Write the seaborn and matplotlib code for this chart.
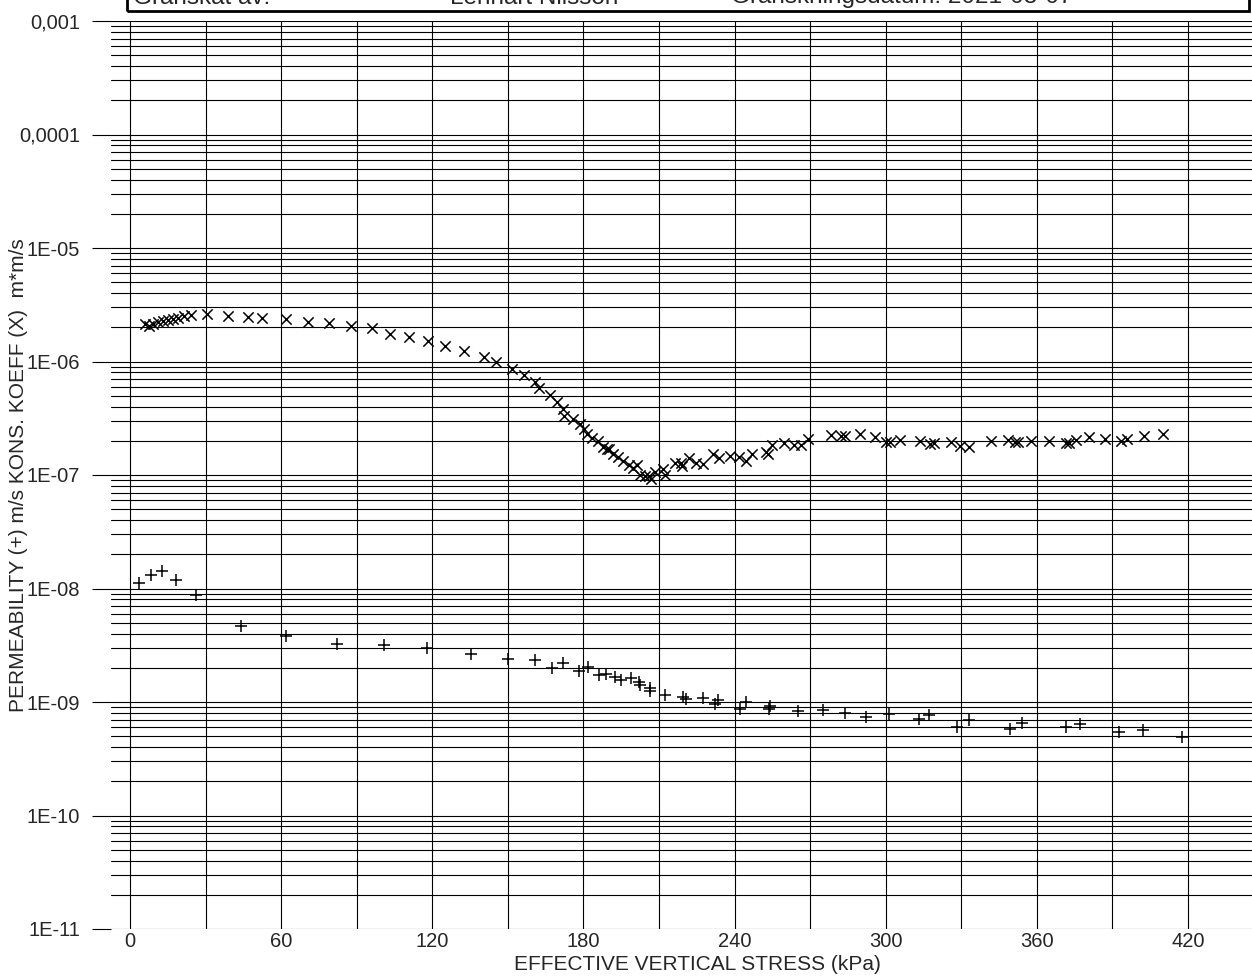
import numpy as np
import matplotlib
matplotlib.use('Agg')
import matplotlib.pyplot as plt
from matplotlib.ticker import LogLocator, MultipleLocator, FuncFormatter, NullFormatter
from matplotlib.patches import Rectangle
import seaborn as sns

# konsolideringskoefficient (x-markers)
stress_koeff = [6.0, 7.7, 9.3, 11.2, 13.2, 15.2, 17.2, 19.2, 21.4, 24.1, 30.7, 38.9, 46.8, 52.6,
                61.8, 70.8, 79.0, 87.6, 95.9, 103.4, 110.8, 118.4, 125.0, 132.5, 140.5, 145.1,
                151.7, 156.3, 160.7, 162.4, 166.9, 169.6, 171.9, 172.2, 175.7, 178.6, 180.2,
                181.5, 183.6, 185.8, 187.8, 189.2, 190.2, 191.8, 193.8, 195.8, 198.1, 199.7,
                201.3, 202.4, 204.4, 206.1, 207.0, 208.3, 211.6, 212.3, 216.3, 218.9, 219.3,
                221.9, 224.6, 227.3, 231.5, 233.9, 238.1, 241.8, 244.4, 247.1, 252.5, 253.4,
                254.8, 259.7, 263.6, 266.4, 269.2, 278.2, 282.1, 283.8, 289.8, 295.6, 300.2,
                301.6, 305.8, 313.5, 317.7, 319.1, 326.1, 329.6, 333.1, 341.9, 348.4, 351.2,
                352.6, 357.5, 364.8, 371.5, 372.9, 375.4, 380.9, 387.1, 393.5, 395.6, 402.5,
                409.9]
koeff = [2.15e-6, 2.04e-6, 2.13e-6, 2.23e-6, 2.28e-6, 2.32e-6, 2.37e-6, 2.40e-6, 2.51e-6, 2.58e-6,
         2.61e-6, 2.52e-6, 2.48e-6, 2.43e-6, 2.36e-6, 2.22e-6, 2.20e-6, 2.04e-6, 1.96e-6, 1.74e-6,
         1.63e-6, 1.51e-6, 1.37e-6, 1.24e-6, 1.10e-6, 9.95e-7, 8.65e-7, 7.6e-7, 6.64e-7, 5.8e-7,
         5.04e-7, 4.42e-7, 3.79e-7, 3.31e-7, 3.10e-7, 2.80e-7, 2.53e-7, 2.29e-7, 2.13e-7, 2.0e-7,
         1.78e-7, 1.68e-7, 1.68e-7, 1.54e-7, 1.44e-7, 1.33e-7, 1.22e-7, 1.16e-7, 1.22e-7, 1.01e-7,
         9.8e-8, 9.8e-8, 9.2e-8, 1.07e-7, 1.12e-7, 1.01e-7, 1.27e-7, 1.28e-7, 1.20e-7, 1.42e-7,
         1.28e-7, 1.26e-7, 1.52e-7, 1.41e-7, 1.48e-7, 1.43e-7, 1.33e-7, 1.52e-7, 1.59e-7, 1.54e-7,
         1.84e-7, 1.93e-7, 1.84e-7, 1.84e-7, 2.07e-7, 2.24e-7, 2.19e-7, 2.22e-7, 2.32e-7, 2.16e-7,
         1.97e-7, 1.97e-7, 2.04e-7, 2.01e-7, 1.88e-7, 1.90e-7, 1.94e-7, 1.80e-7, 1.77e-7, 2.0e-7,
         2.04e-7, 1.97e-7, 1.97e-7, 2.0e-7, 2.01e-7, 1.93e-7, 1.93e-7, 2.04e-7, 2.15e-7, 2.09e-7,
         2.01e-7, 2.09e-7, 2.22e-7, 2.31e-7]

# permeabilitet (+-markers)
stress_perm = [3.7, 8.2, 12.7, 18.3, 26.2, 44.0, 61.8, 82.0, 100.9, 118.1, 135.2, 150.1, 160.8,
               167.6, 171.9, 178.3, 181.9, 186.2, 188.9, 192.5, 194.8, 198.7, 201.9, 202.4, 206.6,
               206.3, 212.3, 219.6, 220.6, 227.3, 232.1, 233.5, 242.1, 244.7, 253.7, 254.2, 265.2,
               275.1, 283.7, 292.1, 301.3, 313.2, 317.2, 328.3, 333.1, 349.5, 354.2, 371.7, 377.0,
               392.6, 402.1, 417.7]
perm = [1.12e-8, 1.31e-8, 1.43e-8, 1.19e-8, 8.77e-9, 4.70e-9, 3.84e-9, 3.22e-9, 3.20e-9, 2.97e-9,
        2.63e-9, 2.41e-9, 2.35e-9, 2.01e-9, 2.22e-9, 1.87e-9, 2.05e-9, 1.72e-9, 1.75e-9, 1.66e-9,
        1.55e-9, 1.62e-9, 1.50e-9, 1.41e-9, 1.34e-9, 1.25e-9, 1.15e-9, 1.11e-9, 1.06e-9, 1.09e-9,
        9.67e-10, 1.04e-9, 8.73e-10, 1.0e-9, 8.63e-10, 9.23e-10, 8.34e-10, 8.45e-10, 7.95e-10,
        7.43e-10, 7.89e-10, 7.03e-10, 7.67e-10, 6.05e-10, 6.93e-10, 5.82e-10, 6.57e-10, 6.05e-10,
        6.35e-10, 5.47e-10, 5.66e-10, 4.94e-10]

ytick_text = {-3: '0,001', -4: '0,0001', -5: '1E-05', -6: '1E-06', -7: '1E-07',
              -8: '1E-08', -9: '1E-09', -10: '1E-10', -11: '1E-11'}

sns.set_theme(style='white')
plt.rcParams['font.family'] = ['Liberation Sans', 'DejaVu Sans']

W, H = 1252, 977
fig = plt.figure(figsize=(W / 100, H / 100), dpi=100)
ax = fig.add_axes([111 / W, (H - 929) / H, (W - 111) / W, (929 - 21) / H])

sns.scatterplot(x=stress_koeff, y=koeff, marker='x', color='black', s=55, linewidth=1.1, ax=ax, zorder=3)
sns.scatterplot(x=stress_perm, y=perm, marker='+', color='black', s=65, linewidth=1.1, ax=ax, zorder=3)

ax.set_yscale('log')
ax.set_ylim(1e-11, 1e-3)
px_per_kpa = 2.519
ax.set_xlim(-19 / px_per_kpa, (W - 130) / px_per_kpa)

ax.xaxis.set_major_locator(MultipleLocator(60))
ax.xaxis.set_minor_locator(MultipleLocator(30))
ax.yaxis.set_major_locator(LogLocator(base=10, numticks=20))
ax.yaxis.set_minor_locator(LogLocator(base=10, subs=np.arange(2, 10), numticks=20))
ax.yaxis.set_major_formatter(FuncFormatter(lambda v, p: ytick_text.get(int(round(np.log10(v))), '')))
ax.yaxis.set_minor_formatter(NullFormatter())

ax.grid(True, which='both', color='black', linewidth=0.8)
for s in ax.spines.values():
    s.set_visible(False)

ax.tick_params(axis='y', which='major', left=True, length=13.7, width=0.8, color='black',
               direction='out', pad=8.6, labelsize=14.5)
ax.tick_params(axis='y', which='minor', length=0)
ax.tick_params(axis='x', which='both', length=0, pad=2, labelsize=14.5)

ax.set_xlabel('EFFECTIVE VERTICAL STRESS (kPa)', fontsize=15)
ax.xaxis.set_label_coords(0.514, -0.029)
ax.set_ylabel('PERMEABILITY (+) m/s KONS. KOEFF (X)  m*m/s', fontsize=15)
ax.yaxis.set_label_coords(-0.0727, 0.5)

# header box from the report page (cut off at top)
fig.patches.append(Rectangle((127 / W, (H - 11) / H), (1249 - 127) / W, 0.1,
                             transform=fig.transFigure, fill=False, edgecolor='black', linewidth=2))
fig.text(133 / W, 1 - 3.5 / H, 'Granskat av:', va='baseline', fontsize=17.5)
fig.text(450 / W, 1 - 3.5 / H, 'Lennart Nilsson', va='baseline', fontsize=17.5)
fig.text(731 / W, 1 - 3.5 / H, 'Granskningsdatum: 2021-03-07', va='baseline', fontsize=17.5)

fig.savefig('out.png', dpi=100)
